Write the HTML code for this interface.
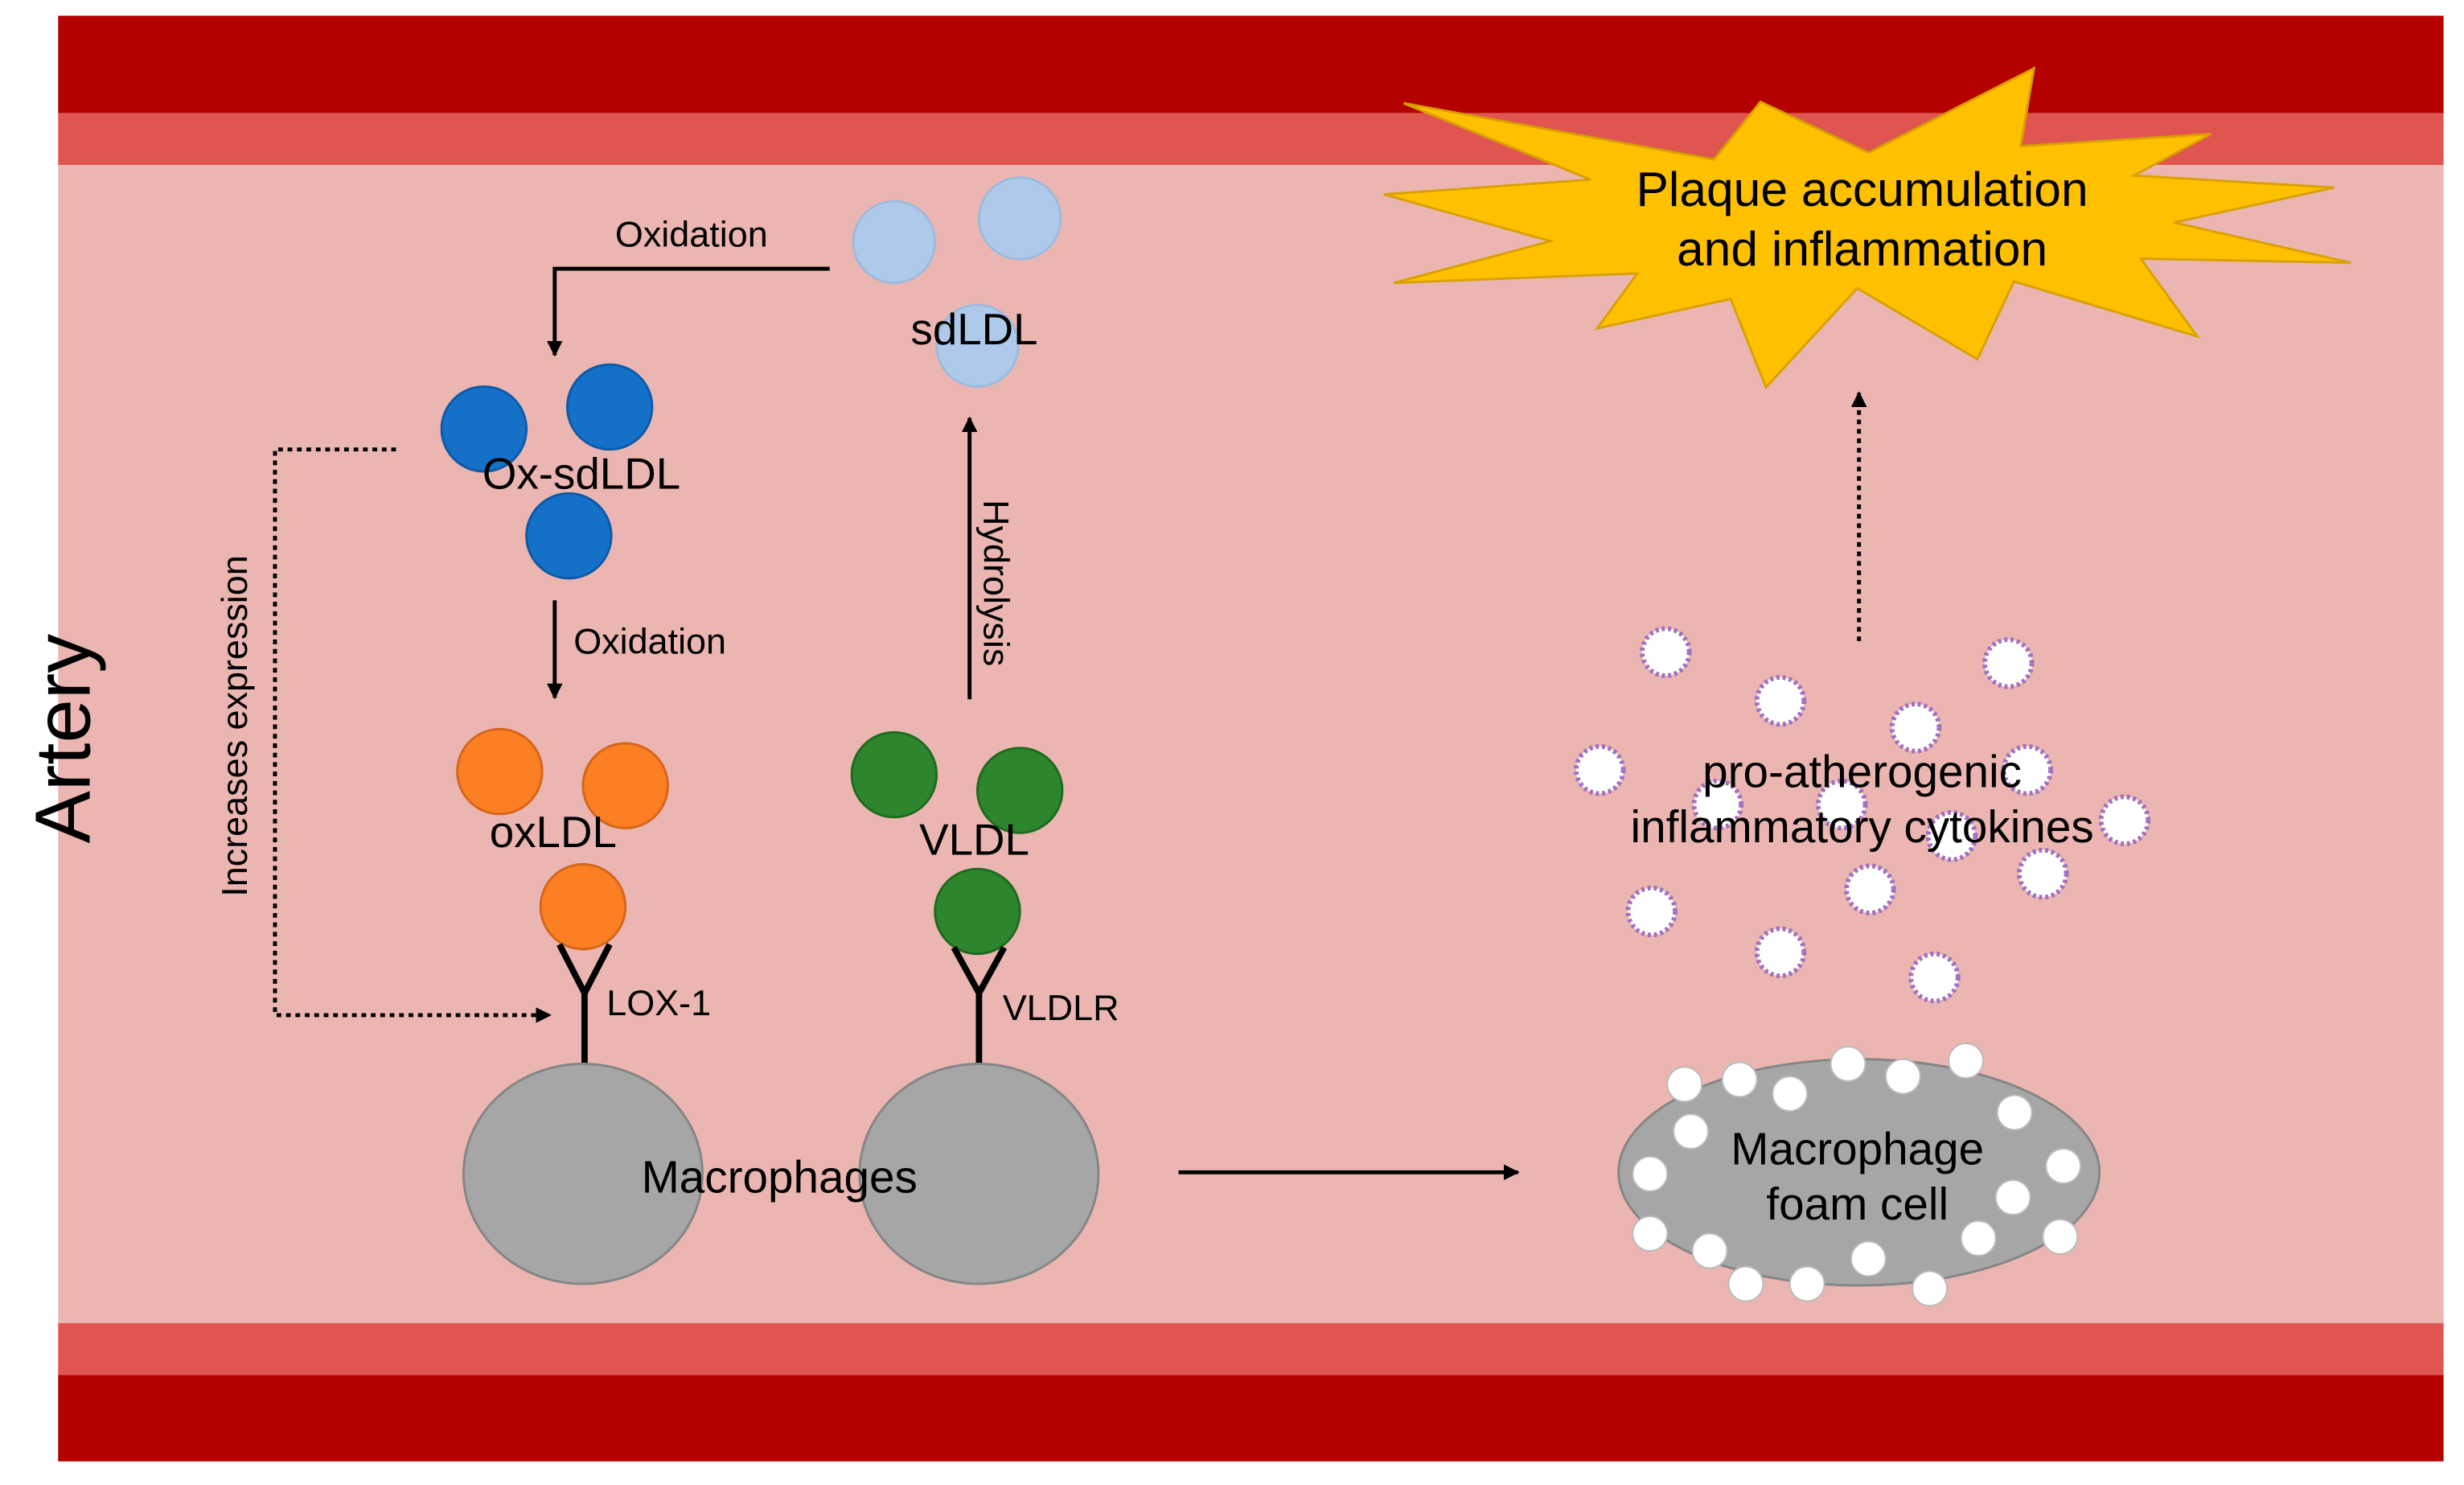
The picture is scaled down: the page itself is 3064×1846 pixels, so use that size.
<!DOCTYPE html>
<html><head><meta charset="utf-8"><style>html,body{margin:0;padding:0;background:#fff}svg{display:block}text{font-family:"Liberation Sans",Arial,sans-serif;fill:#000}</style></head>
<body>
<svg width="3064" height="1846" viewBox="0 0 1568 945" preserveAspectRatio="none" xmlns="http://www.w3.org/2000/svg">
<defs>
<marker id="ah" viewBox="0 0 10 10" refX="9" refY="5" markerWidth="4" markerHeight="4" orient="auto" markerUnits="strokeWidth"><path d="M0,0 L10,5 L0,10 z" fill="#000"/></marker>
</defs>
<rect x="0" y="0" width="1568" height="945" fill="#fff"/>
<rect x="37" y="10" width="1518" height="62" fill="#b50000"/>
<rect x="37" y="72" width="1518" height="33" fill="#e0554f"/>
<rect x="37" y="105" width="1518" height="737" fill="#ebb6b2"/>
<rect x="37" y="842" width="1518" height="33" fill="#e0554f"/>
<rect x="37" y="875" width="1518" height="55" fill="#b50000"/>

<text transform="translate(57,470) rotate(-90)" font-size="50" text-anchor="middle">Artery</text>

<polygon points="893.3,65.7 1090.6,101.5 1120.3,64.8 1189.1,97.2 1294.3,43.5 1285.9,93 1406.9,85.3 1358,111.7 1485.3,119.4 1383.5,141.6 1495.9,167.2 1362.3,164.6 1398.3,214.1 1281.6,179.1 1258.3,228.6 1181.9,183.4 1123.8,246.5 1101.3,190.2 1016.4,209 1041.9,174 887,180 986.7,153.5 880.6,123.7 1012.2,114.3" fill="#ffc000" stroke="#d9a000" stroke-width="1.5"/>
<text x="1185" y="131" font-size="31" text-anchor="middle">Plaque accumulation</text>
<text x="1185" y="169" font-size="31" text-anchor="middle">and inflammation</text>

<g fill="#aec9ea" stroke="#9dbadb" stroke-width="1.5">
<circle cx="569" cy="154" r="26"/><circle cx="649" cy="139" r="26"/><circle cx="622" cy="220" r="26"/>
</g>
<text x="620" y="219" font-size="28" text-anchor="middle">sdLDL</text>

<polyline points="528,171 353,171 353,226" fill="none" stroke="#000" stroke-width="2.5" marker-end="url(#ah)"/>
<text x="440" y="157" font-size="23" text-anchor="middle">Oxidation</text>

<g fill="#1570c8" stroke="#0d5aa8" stroke-width="1.5">
<circle cx="308" cy="273" r="27"/><circle cx="388" cy="259" r="27"/><circle cx="362" cy="341" r="27"/>
</g>
<text x="370" y="311" font-size="28" text-anchor="middle">Ox-sdLDL</text>

<line x1="353" y1="382" x2="353" y2="444" stroke="#000" stroke-width="2.5" marker-end="url(#ah)"/>
<text x="365" y="416" font-size="23">Oxidation</text>

<g fill="#fd7f23" stroke="#d5651a" stroke-width="1.5">
<circle cx="318" cy="491" r="27"/><circle cx="398" cy="500" r="27"/><circle cx="371" cy="577" r="27"/>
</g>
<text x="352" y="539" font-size="28" text-anchor="middle">oxLDL</text>

<g fill="#2d862d" stroke="#1f6a1f" stroke-width="1.5">
<circle cx="569" cy="493" r="27"/><circle cx="649" cy="503" r="27"/><circle cx="622" cy="580" r="27"/>
</g>
<text x="620" y="544" font-size="28" text-anchor="middle">VLDL</text>

<line x1="617" y1="445" x2="617" y2="266" stroke="#000" stroke-width="2.5" marker-end="url(#ah)"/>
<text transform="translate(626,371) rotate(90)" font-size="23" text-anchor="middle">Hydrolysis</text>

<g stroke="#000" stroke-width="4" fill="none">
<polyline points="356,601 372,632 388,601"/><line x1="372" y1="632" x2="372" y2="678"/>
<polyline points="607,603 623,632 639,603"/><line x1="623" y1="632" x2="623" y2="678"/>
</g>
<text x="386" y="646" font-size="23">LOX-1</text>
<text x="638" y="649" font-size="23">VLDLR</text>

<polyline points="252,286 175,286 175,646 350,646" fill="none" stroke="#000" stroke-width="2.5" stroke-dasharray="3,3" marker-end="url(#ah)"/>
<text transform="translate(157,462) rotate(-90)" font-size="23" text-anchor="middle">Increases expression</text>

<g fill="#a6a6a6" stroke="#858585" stroke-width="1.5">
<ellipse cx="371" cy="747" rx="76" ry="70"/><ellipse cx="623" cy="747" rx="76" ry="70"/>
</g>
<text x="496" y="759" font-size="29" text-anchor="middle">Macrophages</text>

<line x1="750" y1="746" x2="966" y2="746" stroke="#000" stroke-width="2.5" marker-end="url(#ah)"/>

<ellipse cx="1183" cy="746" rx="153" ry="72" fill="#a6a6a6" stroke="#858585" stroke-width="1.5"/>
<g fill="#fff" stroke="#bbb" stroke-width="1">
<circle cx="1072" cy="690" r="11"/><circle cx="1107" cy="687" r="11"/><circle cx="1139" cy="696" r="11"/><circle cx="1176" cy="677" r="11"/><circle cx="1211" cy="685" r="11"/><circle cx="1251" cy="675" r="11"/><circle cx="1282" cy="708" r="11"/><circle cx="1076" cy="720" r="11"/><circle cx="1050" cy="747" r="11"/><circle cx="1313" cy="742" r="11"/><circle cx="1281" cy="762" r="11"/><circle cx="1050" cy="785" r="11"/><circle cx="1088" cy="796" r="11"/><circle cx="1189" cy="801" r="11"/><circle cx="1259" cy="788" r="11"/><circle cx="1311" cy="787" r="11"/><circle cx="1111" cy="817" r="11"/><circle cx="1150" cy="817" r="11"/><circle cx="1228" cy="820" r="11"/>
</g>
<text x="1182" y="741" font-size="29" text-anchor="middle">Macrophage</text>
<text x="1182" y="776" font-size="29" text-anchor="middle">foam cell</text>

<g fill="#fff" stroke="#a070c0" stroke-width="3" stroke-dasharray="2,2">
<circle cx="1060" cy="415" r="15"/><circle cx="1278" cy="422" r="15"/><circle cx="1133" cy="446" r="15"/><circle cx="1219" cy="463" r="15"/><circle cx="1018" cy="490" r="15"/><circle cx="1290" cy="490" r="15"/><circle cx="1093" cy="512" r="15"/><circle cx="1172" cy="512" r="15"/><circle cx="1242" cy="532" r="15"/><circle cx="1352" cy="522" r="15"/><circle cx="1190" cy="566" r="15"/><circle cx="1300" cy="556" r="15"/><circle cx="1051" cy="580" r="15"/><circle cx="1133" cy="606" r="15"/><circle cx="1231" cy="622" r="15"/>
</g>
<text x="1185" y="501" font-size="29" text-anchor="middle">pro-atherogenic</text>
<text x="1185" y="536" font-size="29" text-anchor="middle">inflammatory cytokines</text>

<line x1="1183" y1="408" x2="1183" y2="250" stroke="#000" stroke-width="2.5" stroke-dasharray="3,3" marker-end="url(#ah)"/>
</svg>
</body></html>
